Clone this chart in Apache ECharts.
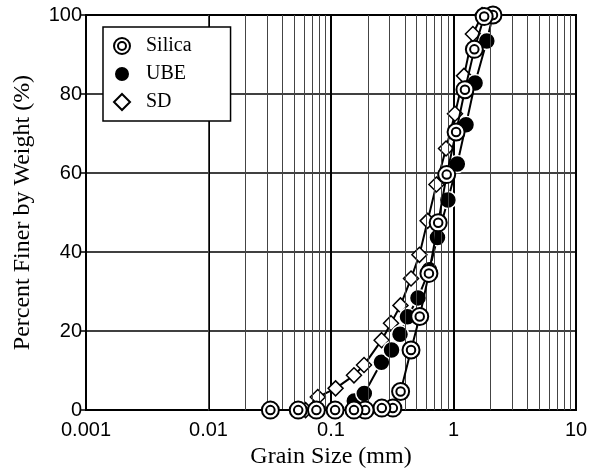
<!DOCTYPE html>
<html>
<head>
<meta charset="utf-8">
<script src="https://cdn.jsdelivr.net/npm/echarts@6/dist/echarts.min.js"></script>
<style>
    html, body { margin: 0; padding: 0; background: #fff; }
    #chart { width: 601px; height: 474px; }
</style>
</head>
<body>
<div id="chart"></div>
<script>
// grain size (mm) and percent finer
var silicaSize = [0.032, 0.054, 0.076, 0.108, 0.154, 0.19, 0.26, 0.32, 0.37, 0.45, 0.53, 0.63, 0.75, 0.88, 1.05, 1.24, 1.48, 1.78, 2.1]
var silicaPct  = [0, 0, 0, 0, 0, 0, 0.5, 0.5, 4.7, 15.2, 23.7, 34.6, 47.4, 59.6, 70.4, 81.1, 91.3, 99.6, 100]

var ubeSize = [0.155, 0.187, 0.258, 0.312, 0.366, 0.421, 0.513, 0.635, 0.74, 0.90, 1.074, 1.265, 1.50, 1.87, 2.1]
var ubePct  = [2.3, 4.2, 12.1, 15.2, 19.2, 23.6, 28.4, 35.5, 43.7, 53.2, 62.3, 72.2, 82.8, 93.4, 100]

var sdSize = [0.062, 0.078, 0.109, 0.154, 0.186, 0.259, 0.309, 0.369, 0.45, 0.527, 0.615, 0.726, 0.869, 1.028, 1.218, 1.44, 1.71]
var sdPct  = [0, 3.3, 5.5, 8.8, 11.4, 17.7, 22.0, 26.5, 33.3, 39.3, 47.9, 57.1, 66.2, 75.0, 84.6, 95.2, 100]

var xTickLabels = ['0.001', '0.01', '0.1', '1', '10']
var yTickLabels = ['0', '20', '40', '60', '80', '100']
var decades = [0.001, 0.01, 0.1, 1]
var minorSteps = [2, 3, 4, 5, 6, 7, 8, 9]

var ringPath = 'path://M0,-8A8,8,0,1,1,0,8A8,8,0,1,1,0,-8ZM0,-4A4,4,0,1,1,0,4A4,4,0,1,1,0,-4Z'
var diamondPath = 'path://M0,-8L8,0L0,8L-8,0Z'

function pairs(xs, ys){
    return xs.map(function(x, i){ return [x, ys[i]] })
}

// minor log grid lines (2..9 within each decade)
var minorLines = []
decades.forEach(function(d){
    minorSteps.forEach(function(k){
        minorLines.push({xAxis: +(d * k).toPrecision(3)})
    })
})

var chart = echarts.init(document.getElementById('chart'))
chart.setOption({
    animation: false,
    grid: {
        left: 86,
        right: 25,
        top: 15,
        bottom: 63,
        show: true,
        borderColor: '#000',
        borderWidth: 2,
        backgroundColor: 'transparent'
    },
    legend: {
        orient: 'vertical',
        left: 103,
        top: 27,
        padding: [9, 39, 9, 10],
        itemGap: 8,
        itemWidth: 16,
        itemHeight: 16,
        backgroundColor: '#fff',
        borderColor: '#000',
        borderWidth: 1.5,
        borderRadius: 0,
        selectedMode: false,
        textStyle: {
            fontFamily: 'Liberation Serif',
            fontSize: 20,
            color: '#000',
            padding: [0, 0, 0, 11]
        },
        data: [
            {name: 'Silica', icon: ringPath},
            {name: 'UBE', icon: 'circle'},
            {name: 'SD', icon: diamondPath}
        ],
        z: 10
    },
    xAxis: {
        type: 'log',
        logBase: 10,
        min: 0.001,
        max: 10,
        name: 'Grain Size (mm)',
        nameLocation: 'middle',
        nameGap: 25,
        nameTextStyle: {
            fontFamily: 'Liberation Serif',
            fontSize: 24,
            color: '#000'
        },
        axisLine: { lineStyle: { color: '#000', width: 2 } },
        axisTick: { show: false },
        axisLabel: {
            margin: 10,
            fontFamily: 'Liberation Sans',
            fontSize: 20,
            color: '#000',
            formatter: function(val, idx){ return xTickLabels[idx] }
        },
        splitLine: { show: true, lineStyle: { color: '#000', width: 2 } }
    },
    yAxis: {
        type: 'value',
        min: 0,
        max: 100,
        interval: 20,
        name: 'Percent Finer by Weight (%)',
        nameLocation: 'middle',
        nameGap: 51,
        nameTextStyle: {
            fontFamily: 'Liberation Serif',
            fontSize: 24,
            color: '#000'
        },
        axisLine: { show: true, lineStyle: { color: '#000', width: 2 } },
        axisTick: { show: true, inside: false, length: 5, lineStyle: { color: '#000', width: 1.5 } },
        axisLabel: {
            margin: 4,
            fontFamily: 'Liberation Sans',
            fontSize: 20,
            color: '#000',
            formatter: function(val, idx){ return yTickLabels[idx] }
        },
        splitLine: { show: true, lineStyle: { color: '#000', width: 1.5 } }
    },
    series: [
        {
            name: 'minor',
            type: 'line',
            data: [],
            silent: true,
            z: 1,
            markLine: {
                silent: true,
                symbol: ['none', 'none'],
                label: { show: false },
                lineStyle: { color: '#444', width: 1, type: 'solid' },
                data: minorLines
            }
        },
        {
            name: 'SD',
            type: 'line',
            data: pairs(sdSize, sdPct),
            symbol: diamondPath,
            symbolSize: 15,
            lineStyle: { color: '#000', width: 2 },
            itemStyle: { color: '#fff', borderColor: '#000', borderWidth: 1.5 },
            z: 3
        },
        {
            name: 'UBE',
            type: 'line',
            data: pairs(ubeSize, ubePct),
            symbol: 'circle',
            symbolSize: 17,
            lineStyle: { color: '#000', width: 2 },
            itemStyle: { color: '#000', borderColor: '#fff', borderWidth: 1.5 },
            z: 4
        },
        {
            name: 'Silica',
            type: 'line',
            // drawn right to left so left markers sit on top, as in the plot
            data: pairs(silicaSize, silicaPct).reverse(),
            symbol: ringPath,
            symbolSize: 17,
            lineStyle: { color: '#000', width: 2 },
            itemStyle: { color: '#fff', borderColor: '#000', borderWidth: 2 },
            z: 5
        }
    ]
})
</script>
</body>
</html>
